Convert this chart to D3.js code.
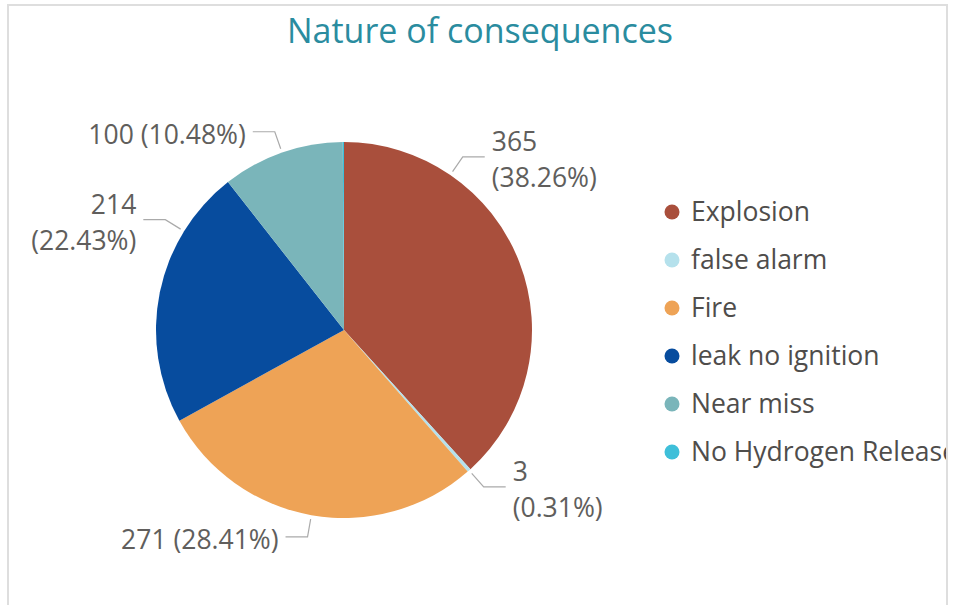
<!DOCTYPE html>
<html>
<head>
<meta charset="utf-8">
<script src="https://cdn.jsdelivr.net/npm/d3@7"></script>
<style>
  body { margin: 0; background: #fff; }
  svg { display: block; font-family: "Segoe UI", "Open Sans", sans-serif; }
</style>
</head>
<body>
<div id="chart"></div>
<script>

const categories = ["Explosion", "false alarm", "Fire", "leak no ignition", "Near miss", "No Hydrogen Release"];
const counts = [365, 3, 271, 214, 100, 1];
const colors = ["#A94F3C", "#B5E1EC", "#EEA356", "#074C9E", "#7AB5BA", "#3EBFD9"];
// where along each slice the leader starts (0..1), and how the label wraps
const labelAt = [0.25, 0.5, 0.5, 0.75, 0.5, null];
const labelWrap = [true, true, false, true, false, false];

const W = 955, H = 605;
const cx = 344, cy = 330, radius = 188;

const total = d3.sum(counts);
const fmtPct = (v) => (v / total * 100).toFixed(2) + "%";

const svg = d3.select("#chart")
    .append("svg")
    .attr("width", W)
    .attr("height", H);

// frame
svg.append("rect")
    .attr("x", 8)
    .attr("y", 5)
    .attr("width", 939)
    .attr("height", H + 20)
    .attr("fill", "none")
    .attr("stroke", "#dedede")
    .attr("stroke-width", 2);

svg.append("text")
    .attr("x", 480)
    .attr("y", 43)
    .attr("text-anchor", "middle")
    .attr("font-size", 34)
    .attr("fill", "#2A8C9F")
    .text("Nature of consequences");

const pie = d3.pie()
    .sort(null)
    .value((d) => d)
    .startAngle(0)
    .endAngle(2 * Math.PI);

const arcs = pie(counts);
const arc = d3.arc().innerRadius(0).outerRadius(radius);

const g = svg.append("g")
    .attr("transform", "translate(" + cx + "," + cy + ")");

g.selectAll("path")
    .data(arcs)
    .enter()
    .append("path")
    .attr("d", arc)
    .attr("fill", (d, i) => colors[i]);

// data labels with leader lines
const labels = arcs.map((d, i) => ({ d: d, i: i })).filter((o) => labelAt[o.i] !== null);

const polar = (a, r) => [r * Math.sin(a), -r * Math.cos(a)];

labels.forEach((o) => {
    const a = o.d.startAngle + (o.d.endAngle - o.d.startAngle) * labelAt[o.i];
    const p0 = polar(a, radius + 4);
    const p1 = polar(a, radius + 22);
    const right = p1[0] > 0;
    const p2 = [p1[0] + (right ? 22 : -22), p1[1]];

    g.append("polyline")
        .attr("points", [p0, p1, p2].map((p) => p.join(",")).join(" "))
        .attr("fill", "none")
        .attr("stroke", "#aaaaaa")
        .attr("stroke-width", 1.2);

    const tx = p2[0] + (right ? 7 : -7);
    const num = String(counts[o.i]);
    const pct = "(" + fmtPct(counts[o.i]) + ")";
    const lines = labelWrap[o.i] ? [num, pct] : [num + " " + pct];
    const lh = 36;
    const top = p2[1] + 3 - (lines.length - 1) * lh / 2;

    const t = g.append("text")
        .attr("text-anchor", right ? "start" : "end")
        .attr("font-size", 26.5)
        .attr("fill", "#605E5C");
    lines.forEach((s, k) => {
        t.append("tspan")
            .attr("x", tx)
            .attr("y", top + k * lh)
            .attr("dy", "0.35em")
            .text(s);
    });
});

// legend, clipped at the frame edge
svg.append("clipPath")
    .attr("id", "legendClip")
    .append("rect")
    .attr("x", 0)
    .attr("y", 0)
    .attr("width", 946)
    .attr("height", H);

const legend = svg.append("g")
    .attr("clip-path", "url(#legendClip)");

const rows = legend.selectAll("g")
    .data(categories)
    .enter()
    .append("g")
    .attr("transform", (d, i) => "translate(672," + (212 + i * 48) + ")");

rows.append("circle")
    .attr("r", 7.5)
    .attr("fill", (d, i) => colors[i]);

rows.append("text")
    .attr("x", 19)
    .attr("dy", "0.35em")
    .attr("font-size", 26.5)
    .attr("fill", "#4F4D4B")
    .text((d) => d);

</script>
</body>
</html>
